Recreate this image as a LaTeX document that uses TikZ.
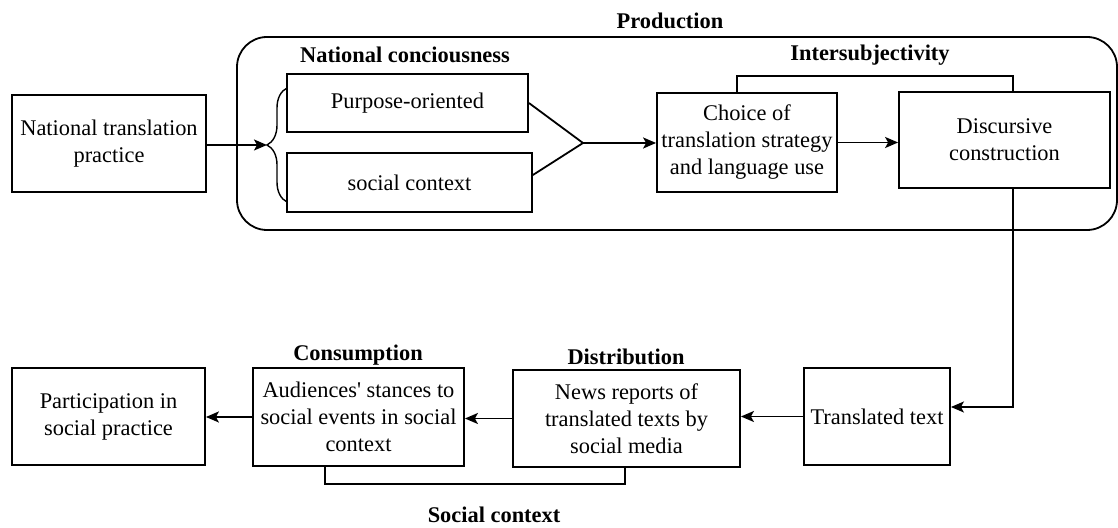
\documentclass[tikz,border=0pt]{standalone}
\usepackage{fontspec}
\setmainfont{Liberation Serif}
\usetikzlibrary{arrows.meta,decorations.pathreplacing}
\tikzset{
	boxnode/.style = {align=center, inner sep=0pt, text centered,
		font=\fontsize{11.2}{13.5}\selectfont},
	blk/.style = {boxnode, rectangle, draw=black, line width=0.9pt},% plain box
	ttl/.style = {boxnode, font=\fontsize{11.2}{13.5}\selectfont\bfseries},% bold heading
	frm/.style = {draw=black, line width=0.9pt, rounded corners=15pt}% production frame
}

\begin{document}
\begin{tikzpicture}[x=0.5pt, y=-0.5pt, ->, >={Stealth[length=6.5pt, width=5.5pt, inset=1.5pt]},
	line width=0.9pt]
	\useasboundingbox (0,0) rectangle (1118,528);
	% production frame
	\draw[frm, -] (237,37) rectangle (1117,230);
	\node [ttl] (lprod) at (670,21) {Production};
	\node [ttl] (lnat) at (405,55) {National conciousness};
	\node [ttl] (linter) at (870,55) {Intersubjectivity};
	\node [ttl] (lcons) at (358,355) {Consumption};
	\node [ttl] (ldistr) at (626,357) {Distribution};
	\node [ttl] (lsoc) at (494,515) {Social context};
	% boxes
	\node [blk, minimum width=97pt, minimum height=48.5pt] (natl) at (109,143.5)
		{National translation\\practice};
	\node [blk, minimum width=120.5pt, minimum height=29pt] (purp) at (407.5,103)
		{Purpose-oriented};
	\node [blk, minimum width=122.5pt, minimum height=29.5pt] (soc) at (409.5,182.5)
		{social context};
	\node [blk, minimum width=90pt, minimum height=49.5pt] (choice) at (747,142.5)
		{Choice of\\translation strategy\\and language use};
	\node [blk, minimum width=105.5pt, minimum height=48pt] (disc) at (1004.5,140)
		{Discursive\\construction};
	\node [blk, minimum width=73pt, minimum height=48.5pt] (trans) at (877,416.5)
		{Translated text};
	\node [blk, minimum width=113.5pt, minimum height=48.5pt] (distr) at (626.5,418.5)
		{News reports of\\translated texts by\\social media};
	\node [blk, minimum width=105.5pt, minimum height=49pt] (cons) at (358.5,417)
		{Audiences\textquotesingle{} stances to\\social events in social\\context};
	\node [blk, minimum width=96.5pt, minimum height=48.5pt] (part) at (108.5,416.5)
		{Participation in\\social practice};
	% brace and merge
	\coordinate (btip) at (267,145);
	\coordinate (apex) at (583,143);
	\draw[-, line width=0.7pt, decorate, decoration={brace, amplitude=10pt}]
		(287,202) -- (287,88);
	\draw (natl.east |- btip) -- (btip);
	\draw[-] (purp.east) -- (apex) -- ([yshift=3.75pt]soc.east);
	\draw (apex) -- (choice.west |- apex);
	\draw (choice.east) -- (choice.east -| disc.west);
	\draw[-] ([xshift=-5pt]choice.north) -- ++(0,-16) -| ([xshift=4.25pt]disc.north);
	\draw ([xshift=4.25pt]disc.south) |- ([yshift=4.75pt]trans.east);
	% bottom row
	\draw (trans.west) -- (trans.west -| distr.east);
	\draw (distr.west) -- (distr.west -| cons.east);
	\draw (cons.west) -- (cons.west -| part.east);
	\draw[-] ([xshift=-16.75pt]cons.south) -- ++(0,17) -| ([xshift=-0.75pt]distr.south);
\end{tikzpicture}
\end{document}
